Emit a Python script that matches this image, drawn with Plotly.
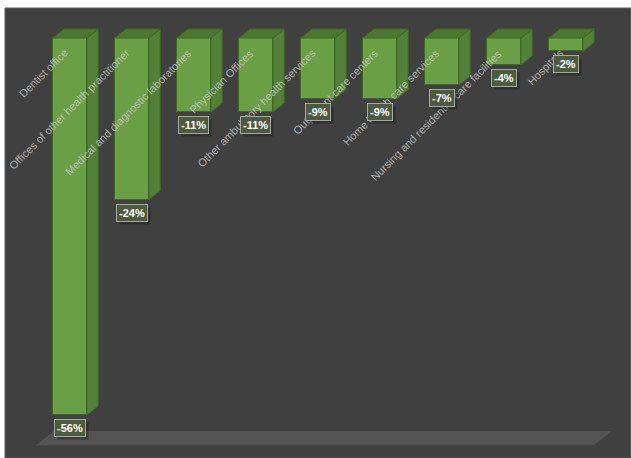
import plotly.graph_objects as go

# ---- data ----
categories = [
    "Dentist office",
    "Offices of other health practitioner",
    "Medical and diagnostic laboratories",
    "Physician Offices",
    "Other ambulatory health services",
    "Outpatient care centers",
    "Home health care services",
    "Nursing and residential care facilities",
    "Hospitals",
]
values = [-56, -24, -11, -11, -9, -9, -7, -4, -2]
value_labels = ["-56%", "-24%", "-11%", "-11%", "-9%", "-9%", "-7%", "-4%", "-2%"]

# ---- style ----
W, H = 631, 458
BAR_W = 0.55          # front face width (x units)
DX, DY = 0.18, 1.34   # 3D depth offset (x units, y units)
X_RANGE = [-1.048, 9.049]
Y_RANGE = [-62.4, 4.46]
FLOOR_Y = -60.5
FLOOR_DEPTH = 2.1
FLOOR_DX = 0.29

FRONT = "#6A9F45"
SIDE = "#54813A"
TOP = "#4D7731"
EDGE = "#3F6A25"
BG = "#404040"

idx = list(range(len(categories)))

fig = go.Figure()

# floor
x0f, x1f = idx[0] - 0.55, idx[-1] + 0.45
fig.add_trace(go.Scatter(
    x=[x0f, x0f + FLOOR_DX, x1f + FLOOR_DX, x1f, x0f],
    y=[FLOOR_Y, FLOOR_Y + FLOOR_DEPTH, FLOOR_Y + FLOOR_DEPTH, FLOOR_Y, FLOOR_Y],
    fill="toself", fillcolor="#545454", mode="none", hoverinfo="skip", showlegend=False))

# side faces and top faces
sx, sy, tx, ty = [], [], [], []
for i, v in zip(idx, values):
    xl, xr = i - BAR_W / 2, i + BAR_W / 2
    sx += [xr, xr + DX, xr + DX, xr, xr, None]
    sy += [0, DY, v + DY, v, 0, None]
    tx += [xl, xr, xr + DX, xl + DX, xl, None]
    ty += [0, 0, DY, DY, 0, None]
fig.add_trace(go.Scatter(x=sx, y=sy, fill="toself", fillcolor=SIDE, mode="lines",
                         line=dict(color=EDGE, width=1), hoverinfo="skip", showlegend=False))
fig.add_trace(go.Scatter(x=tx, y=ty, fill="toself", fillcolor=TOP, mode="lines",
                         line=dict(color=EDGE, width=1), hoverinfo="skip", showlegend=False))

# front faces
fig.add_trace(go.Bar(x=idx, y=values, width=BAR_W, base=0,
                     marker=dict(color=FRONT, line=dict(color=EDGE, width=1)),
                     hovertext=categories, showlegend=False))

annotations = []
# category labels
for i, c in zip(idx, categories):
    annotations.append(dict(
        x=i, y=0, xref="x", yref="y", text=c, showarrow=False,
        textangle=-45, xanchor="right", yanchor="top", xshift=3, yshift=-6,
        font=dict(family="Liberation Sans", size=11, color="rgba(205,205,205,0.8)")))
# value labels with shadow
for i, v, t in zip(idx, values, value_labels):
    annotations.append(dict(
        x=i, y=v, xref="x", yref="y", text="<b>%s</b>" % t, showarrow=False,
        xanchor="center", yanchor="top", xshift=3, yshift=-7,
        bgcolor="rgba(20,20,20,0.35)", borderpad=2,
        font=dict(family="Liberation Sans", size=11, color="rgba(0,0,0,0)")))
    annotations.append(dict(
        x=i, y=v, xref="x", yref="y", text="<b>%s</b>" % t, showarrow=False,
        xanchor="center", yanchor="top", yshift=-4,
        bgcolor="#4D5A3F", bordercolor="#A3ABA0", borderwidth=1, borderpad=2,
        font=dict(family="Liberation Sans", size=11, color="#FFFFFF")))

fig.update_layout(
    width=W, height=H,
    margin=dict(l=5, r=0, t=8, b=0),
    paper_bgcolor="#FFFFFF", plot_bgcolor=BG,
    xaxis=dict(range=X_RANGE, visible=False, fixedrange=True),
    yaxis=dict(range=Y_RANGE, visible=False, fixedrange=True),
    annotations=annotations,
    shapes=[dict(type="rect", xref="paper", yref="paper", x0=0, x1=1, y0=0, y1=1,
                 line=dict(color="#5A5A5A", width=1), layer="above")],
    bargap=0,
)

fig.write_html("out.html")
